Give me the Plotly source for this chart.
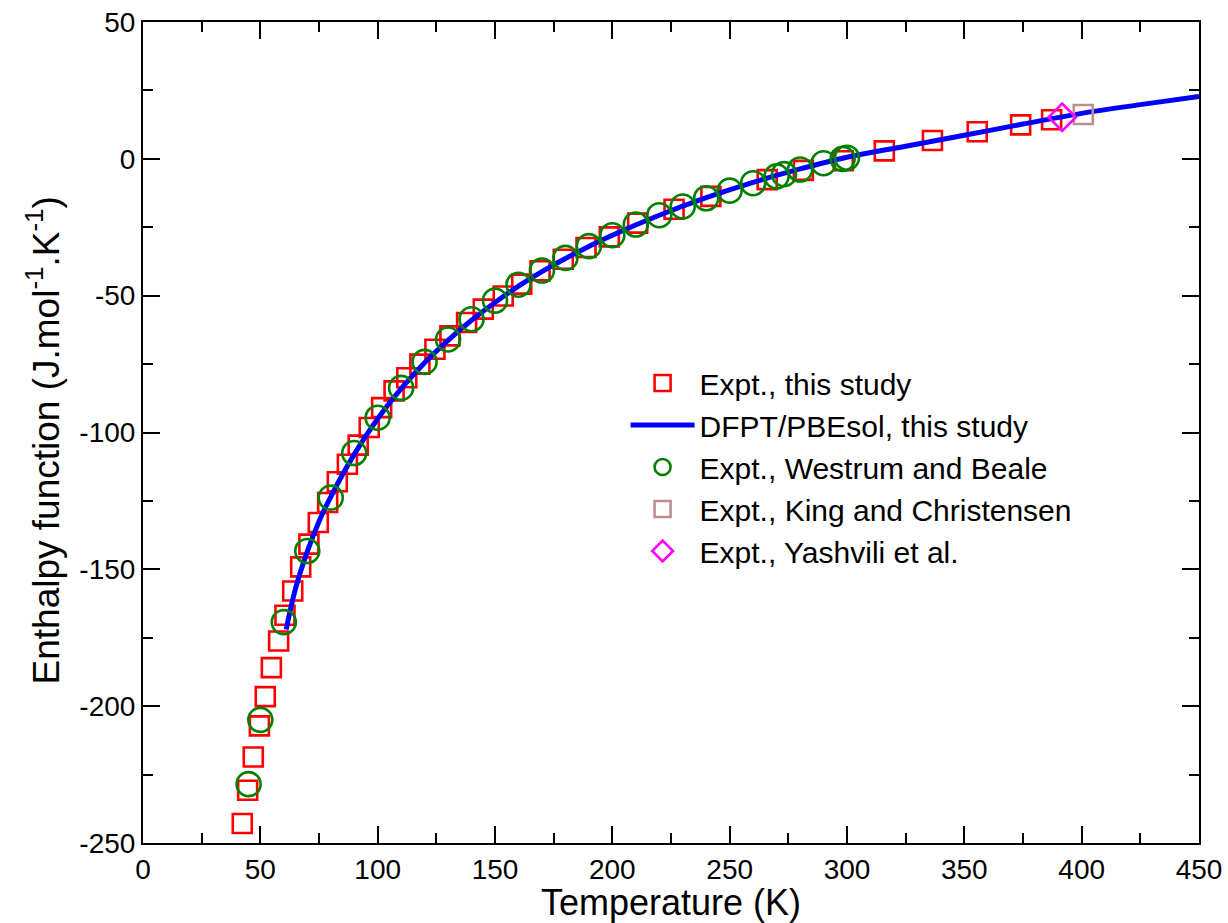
import plotly.graph_objects as go

# Expt., this study (red squares)
expt_T = [42.3, 44.6, 47.0, 49.6, 52.1, 54.7, 57.8, 60.5, 63.8, 67.2, 70.7, 74.7, 78.7,
          82.8, 87.1, 91.7, 96.4, 101.7, 107.0, 112.4, 118.0, 124.4, 130.8, 137.9, 145.0,
          153.5, 161.4, 169.2, 179.1, 188.8, 198.7, 210.8, 226.3, 242.0, 266.0, 281.4,
          298.4, 315.9, 336.4, 355.5, 374.0, 387.2]
expt_H = [-242.9, -230.7, -218.6, -207.2, -196.5, -185.9, -176.2, -166.8, -157.9, -149.1,
          -140.8, -132.9, -125.6, -118.0, -111.6, -104.6, -98.2, -90.9, -84.8, -80.0,
          -75.0, -69.6, -64.7, -59.8, -54.9, -50.1, -45.8, -40.9, -36.7, -32.4, -28.5,
          -23.5, -18.4, -13.7, -7.6, -4.2, -0.7, 2.9, 6.7, 9.9, 12.4, 14.3]

# DFPT/PBEsol, this study (blue line)
dfpt_T = [61, 65, 70, 75, 80, 90, 100, 110, 120, 130, 140, 150, 160, 170, 180, 190, 200,
          220, 240, 260, 280, 300, 325, 350, 375, 400, 425, 450]
dfpt_H = [-172.0, -157.0, -143.5, -132.5, -123.5, -108.0, -95.0, -84.0, -74.5, -66.3,
          -59.0, -52.5, -46.5, -41.2, -36.4, -32.0, -27.9, -20.6, -14.2, -8.6, -3.7, 0.6,
          4.6, 8.6, 12.7, 16.6, 19.8, 22.8]

# Expt., Westrum and Beale (green circles)
wb_T = [45, 50, 60, 70, 80, 90, 100, 110, 120, 130, 140, 150, 160, 170, 180, 190, 200,
        210, 220, 230, 240, 250, 260, 270, 273.15, 280, 290, 298.15, 300]
wb_H = [-228.5, -205.0, -169.3, -143.3, -123.8, -107.5, -94.6, -83.7, -74.2, -66.0,
        -58.6, -51.8, -46.0, -40.8, -36.2, -31.9, -27.9, -24.0, -20.6, -17.4, -14.4,
        -11.6, -8.9, -6.4, -5.6, -3.9, -1.6, 0.0, 0.4]

# Expt., King and Christensen (rosy-brown square)
kc_T = [400.7]
kc_H = [16.2]

# Expt., Yashvili et al. (magenta diamond)
ya_T = [391.7]
ya_H = [15.2]

# Tick labels
x_ticks = [0, 50, 100, 150, 200, 250, 300, 350, 400, 450]
x_ticklabels = ["0", "50", "100", "150", "200", "250", "300", "350", "400", "450"]
y_ticks = [-250, -200, -150, -100, -50, 0, 50]
y_ticklabels = ["-250", "-200", "-150", "-100", "-50", "0", "50"]

FONT = "Liberation Sans, Arial, sans-serif"

fig = go.Figure()
fig.add_trace(go.Scatter(x=expt_T, y=expt_H, mode="markers", name="Expt., this study",
                         marker=dict(symbol="square-open", size=19, color="#FF0000",
                                     line=dict(width=2.6, color="#FF0000"))))
fig.add_trace(go.Scatter(x=dfpt_T, y=dfpt_H, mode="lines", name="DFPT/PBEsol, this study",
                         line=dict(color="#0000FF", width=5, shape="spline")))
fig.add_trace(go.Scatter(x=wb_T, y=wb_H, mode="markers", name="Expt., Westrum and Beale",
                         marker=dict(symbol="circle-open", size=24, color="#008000",
                                     line=dict(width=2.6, color="#008000"))))
fig.add_trace(go.Scatter(x=kc_T, y=kc_H, mode="markers", name="Expt., King and Christensen",
                         marker=dict(symbol="square-open", size=19, color="#BC8F8F",
                                     line=dict(width=2.6, color="#BC8F8F"))))
fig.add_trace(go.Scatter(x=ya_T, y=ya_H, mode="markers", name="Expt., Yashvili et al.",
                         marker=dict(symbol="diamond-open", size=21, color="#FF00FF",
                                     line=dict(width=2.6, color="#FF00FF"))))

axis_common = dict(
    showline=True, linecolor="black", linewidth=2, mirror="allticks",
    ticks="inside", ticklen=17, tickwidth=2, tickcolor="black",
    showgrid=False, zeroline=False, automargin=False,
    tickfont=dict(family=FONT, size=28, color="black"),
    minor=dict(ticks="inside", ticklen=10, tickwidth=2, tickcolor="black",
               showgrid=False, dtick=25),
)

fig.update_layout(
    width=1228, height=923,
    margin=dict(l=143, r=29, t=22, b=80),
    paper_bgcolor="white", plot_bgcolor="white",
    font=dict(family=FONT, color="black"),
    showlegend=True,
    legend=dict(x=0.457, y=0.592, xanchor="left", yanchor="top",
                bgcolor="rgba(0,0,0,0)", borderwidth=0,
                font=dict(size=30, family=FONT),
                itemwidth=64),
    xaxis=dict(axis_common, range=[0, 450], tickmode="array",
               tickvals=x_ticks, ticktext=x_ticklabels,
               title=dict(text="Temperature (K)", standoff=6,
                          font=dict(size=36, family=FONT))),
    yaxis=dict(axis_common, range=[-250, 50], tickmode="array",
               tickvals=y_ticks, ticktext=y_ticklabels),
    annotations=[dict(text="Enthalpy function (J.mol<sup>-1</sup>.K<sup>-1</sup>)",
                      xref="paper", yref="paper", x=-0.094, y=0.49,
                      xanchor="center", yanchor="middle", textangle=-90,
                      showarrow=False, font=dict(size=37, family=FONT, color="black"))],
)

fig.write_html("out.html")
